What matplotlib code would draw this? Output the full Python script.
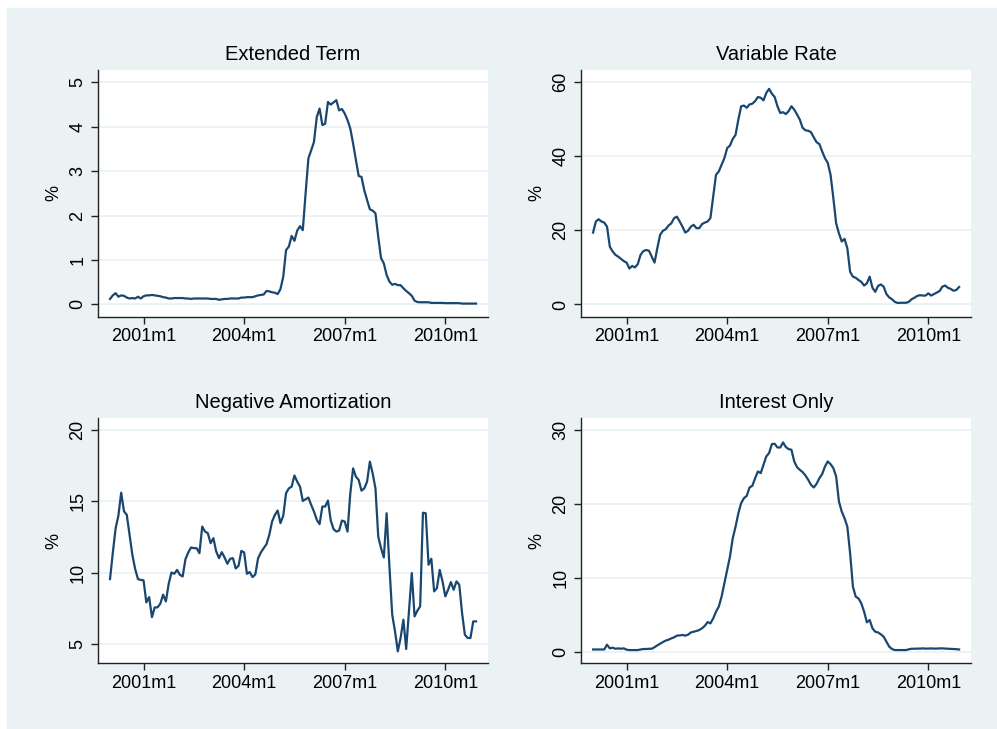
import numpy as np
import matplotlib
matplotlib.use("Agg")
import matplotlib.pyplot as plt
from matplotlib.patches import Rectangle

plt.rcParams["font.family"] = ["Liberation Sans", "DejaVu Sans"]

# months since 2000m1
tick_pos = [12, 48, 84, 120]
tick_labels = ["2001m1", "2004m1", "2007m1", "2010m1"]

extended_term = [
    0.12, 0.2, 0.25, 0.17, 0.2, 0.19, 0.15, 0.13, 0.14, 0.13, 0.17, 0.13, 0.18,
    0.2, 0.2, 0.21, 0.2, 0.19, 0.18, 0.16, 0.15, 0.13, 0.13, 0.14, 0.14,
    0.14, 0.14, 0.13, 0.13, 0.12, 0.13, 0.13, 0.13, 0.13, 0.13, 0.13, 0.12,
    0.12, 0.12, 0.1, 0.11, 0.12, 0.12, 0.13, 0.13, 0.13, 0.13, 0.15, 0.15,
    0.16, 0.16, 0.16, 0.18, 0.2, 0.21, 0.22, 0.3, 0.29, 0.27, 0.26, 0.23,
    0.34, 0.62, 1.22, 1.3, 1.54, 1.43, 1.66, 1.76, 1.67, 2.5, 3.29, 3.47,
    3.66, 4.22, 4.41, 4.04, 4.07, 4.56, 4.5, 4.55, 4.6, 4.37, 4.4, 4.3,
    4.15, 3.96, 3.62, 3.25, 2.89, 2.87, 2.57, 2.35, 2.14, 2.11, 2.05, 1.52,
    1.04, 0.92, 0.66, 0.51, 0.44, 0.46, 0.43, 0.43, 0.36, 0.3, 0.25, 0.19,
    0.08, 0.05, 0.045, 0.045, 0.045, 0.045, 0.03, 0.03, 0.03, 0.03, 0.03,
    0.025, 0.025, 0.025, 0.025, 0.025, 0.025, 0.015, 0.015, 0.015, 0.015,
    0.015, 0.015,
]

variable_rate = [
    19.4, 22.4, 23.0, 22.4, 22.1, 21.0, 15.6, 14.3, 13.4, 12.9, 12.3, 11.7,
    11.3, 9.7, 10.4, 10.0, 10.9, 13.4, 14.4, 14.7, 14.5, 12.9, 11.3, 15.2,
    18.8, 19.9, 20.3, 21.3, 21.9, 23.3, 23.7, 22.4, 21.0, 19.4, 19.9, 21.0,
    21.5, 20.6, 20.6, 21.7, 22.1, 22.4, 23.3, 29.2, 35.0, 35.9, 37.7, 39.5,
    42.2, 42.9, 44.7, 45.8, 49.9, 53.5, 53.7, 53.1, 54.0, 54.2, 54.9, 56.0,
    55.8, 55.1, 57.1, 58.2, 56.9, 56.0, 53.5, 51.7, 51.9, 51.4, 52.2, 53.5,
    52.6, 51.3, 49.9, 47.7, 47.0, 46.9, 46.5, 45.1, 43.8, 43.3, 41.3, 39.5,
    38.2, 35.0, 28.7, 21.9, 19.2, 17.0, 17.7, 15.2, 8.8, 7.5, 7.2, 6.6,
    6.1, 5.1, 5.7, 7.5, 4.5, 3.4, 5.0, 5.4, 4.8, 2.8, 1.9, 1.4, 0.7, 0.4,
    0.45, 0.45, 0.45, 0.7, 1.4, 1.8, 2.3, 2.5, 2.4, 2.4, 3.0, 2.4, 2.8, 3.2,
    3.6, 4.8, 5.1, 4.5, 4.2, 3.7, 3.9, 4.7,
]

negative_amortization = [
    9.56, 11.4, 13.1, 14.0, 15.6, 14.3, 14.05, 12.65, 11.25, 10.26, 9.56,
    9.5, 9.47, 7.93, 8.3, 6.9, 7.58, 7.58, 7.84, 8.47, 8.0, 9.23, 10.02,
    9.93, 10.2, 9.86, 9.74, 10.95, 11.42, 11.77, 11.72, 11.72, 11.37, 13.23,
    12.88, 12.77, 12.07, 12.42, 11.49, 11.02, 11.44, 11.07, 10.63, 10.98,
    11.02, 10.3, 10.49, 11.53, 11.42, 9.93, 10.05, 9.7, 9.88, 11.02, 11.42,
    11.72, 12.0, 12.65, 13.58, 14.05, 14.35, 13.47, 13.98, 15.56, 15.9,
    16.02, 16.8, 16.37, 16.02, 15.02, 15.14, 15.26, 14.74, 14.28, 13.7,
    13.4, 14.63, 14.63, 15.05, 13.65, 13.05, 12.88, 12.95, 13.65, 13.58,
    12.88, 15.56, 17.3, 16.72, 16.49, 15.74, 15.9, 16.37, 17.77, 16.95,
    15.9, 12.53, 11.72, 11.07, 14.16, 10.44, 7.07, 5.91, 4.51, 5.44, 6.72,
    4.67, 7.3, 9.98, 6.95, 7.35, 7.65, 14.2, 14.16, 10.56, 10.98, 8.7, 8.93,
    10.2, 9.4, 8.35, 8.81, 9.35, 8.81, 9.4, 9.16, 7.19, 5.67, 5.44, 5.44,
    6.6, 6.6,
]

interest_only = [
    0.3, 0.3, 0.3, 0.3, 0.3, 0.95, 0.45, 0.54, 0.4, 0.45, 0.4, 0.45, 0.27,
    0.22, 0.22, 0.22, 0.22, 0.3, 0.36, 0.36, 0.4, 0.4, 0.6, 0.86, 1.08, 1.3,
    1.5, 1.62, 1.8, 1.94, 2.17, 2.2, 2.26, 2.17, 2.3, 2.6, 2.7, 2.8, 2.93,
    3.16, 3.5, 4.0, 3.83, 4.5, 5.4, 6.1, 7.44, 9.25, 11.05, 12.86, 15.34,
    16.9, 18.7, 20.07, 20.75, 21.06, 22.19, 22.42, 23.45, 24.36, 24.13,
    25.26, 26.39, 26.84, 28.06, 28.1, 27.6, 27.6, 28.28, 27.65, 27.38, 27.29,
    25.71, 24.94, 24.58, 24.27, 23.82, 23.23, 22.55, 22.19, 22.69, 23.45,
    24.0, 25.03, 25.71, 25.35, 24.81, 23.68, 20.3, 18.94, 18.04, 16.91, 13.3,
    8.8, 7.44, 7.2, 6.54, 5.41, 3.97, 4.28, 3.16, 2.7, 2.6, 2.35, 2.03, 1.35,
    0.68, 0.36, 0.22, 0.22, 0.22, 0.22, 0.22, 0.32, 0.4, 0.4, 0.42, 0.42,
    0.45, 0.42, 0.42, 0.45, 0.42, 0.42, 0.45, 0.45, 0.42, 0.4, 0.38, 0.36,
    0.34, 0.3,
]

panels = [
    ("Extended Term", extended_term, [0, 1, 2, 3, 4, 5], (-0.28, 5.28)),
    ("Variable Rate", variable_rate, [0, 20, 40, 60], (-3.3, 63.3)),
    ("Negative Amortization", negative_amortization, [5, 10, 15, 20], (3.67, 20.84)),
    ("Interest Only", interest_only, [0, 10, 20, 30], (-1.57, 31.62)),
]

BG = "#EAF2F3"
LINE = "#1A476F"

fig = plt.figure(figsize=(9.97, 7.29), dpi=100)
fig.patches.append(Rectangle((7 / 997, 0), 1 - 7 / 997, 1 - 8 / 729,
                             transform=fig.transFigure, color=BG, zorder=-10))

positions = [
    [0.0983, 0.5656, 0.3915, 0.3384],
    [0.5828, 0.5656, 0.3915, 0.3384],
    [0.0983, 0.0901, 0.3915, 0.3369],
    [0.5828, 0.0901, 0.3915, 0.3369],
]

for (title, values, yticks, ylim), pos in zip(panels, positions):
    ax = fig.add_axes(pos)
    months = np.arange(len(values))
    ax.plot(months, values, color=LINE, lw=1.6, zorder=3)
    ax.set_xlim(-4.3, 135.4)
    ax.set_ylim(*ylim)
    ax.set_xticks(tick_pos)
    ax.set_xticklabels(tick_labels)
    ax.set_yticks(yticks)
    ax.set_yticklabels([str(v) for v in yticks], rotation=90, va="center")
    ax.grid(axis="y", color=BG, lw=1.3, zorder=0)
    for side in ("top", "right"):
        ax.spines[side].set_visible(False)
    for side in ("left", "bottom"):
        ax.spines[side].set_color("#222222")
        ax.spines[side].set_linewidth(1.0)
    ax.tick_params(length=5, width=1.0, color="#222222", labelsize=13, pad=3.5)
    ax.set_ylabel("%", fontsize=13, labelpad=5)
    ax.set_title(title, fontsize=14.5, pad=7)

fig.savefig("out.png", dpi=100)
